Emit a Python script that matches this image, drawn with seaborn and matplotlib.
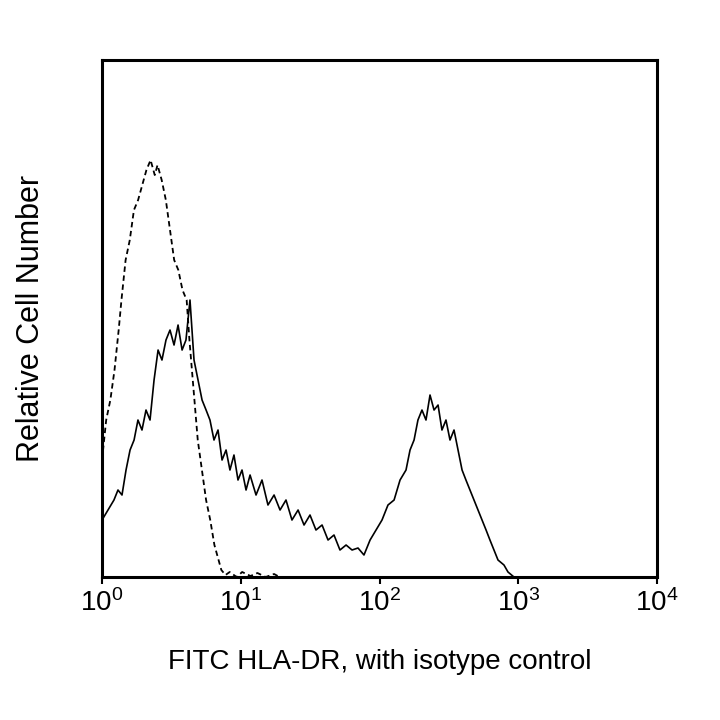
import numpy as np
import pandas as pd
import matplotlib
matplotlib.use("Agg")
import matplotlib.pyplot as plt
import seaborn as sns

# isotype control (dashed): log10 intensity, relative count
iso_log = [0, .03, .06, .09, .12, .14, .17, .2, .23, .26, .29, .32, .35, .38, .4, .43, .46, .49,
           .52, .55, .58, .61, .63, .66, .69, .72, .75, .78, .81, .84, .86, .89, .92, .97, 1.01,
           1.07, 1.12, 1.18, 1.24, 1.28]
iso_cnt = [117, 157, 177, 207, 247, 277, 317, 337, 367, 377, 392, 407, 417, 402, 412, 397, 377, 347,
           317, 307, 287, 277, 237, 187, 137, 107, 77, 57, 32, 17, 7, 2, 5, 0, 5,
           1, 4, 0, 3, 0]

# HLA-DR stained (solid)
hla_log = [0, .043, .086, .115, .144, .173, .202, .231, .259, .288, .317, .346, .375, .404, .432,
           .461, .49, .519, .548, .577, .605, .634, .663, .692, .721, .75, .778, .807, .836, .865,
           .894, .922, .951, .98, 1.009, 1.038, 1.067, 1.11, 1.153, 1.196, 1.24, 1.283, 1.326,
           1.369, 1.413, 1.456, 1.499, 1.542, 1.586, 1.629, 1.672, 1.715, 1.759, 1.802, 1.845,
           1.888, 1.932, 1.975, 2.018, 2.061, 2.105, 2.148, 2.191, 2.22, 2.249, 2.277, 2.306,
           2.335, 2.364, 2.393, 2.422, 2.45, 2.479, 2.508, 2.537, 2.566, 2.595, 2.623, 2.652,
           2.681, 2.71, 2.739, 2.768, 2.796, 2.825, 2.854, 2.897, 2.926, 2.969]
hla_cnt = [57, 67, 77, 87, 82, 107, 127, 137, 157, 147, 167, 157, 197, 227, 217,
           237, 247, 232, 252, 227, 237, 277, 217, 197, 177, 167, 157, 137, 147, 117,
           127, 107, 122, 97, 107, 87, 102, 82, 97, 72, 82, 67, 77,
           57, 67, 52, 62, 47, 52, 37, 42, 27, 32, 27, 29,
           22, 37, 47, 57, 72, 77, 97, 107, 127, 137, 157, 167,
           157, 182, 167, 172, 147, 157, 137, 147, 127, 107, 97, 87,
           77, 67, 57, 47, 37, 27, 17, 12, 5, 0]

tick_vals = [1, 10, 100, 1000, 10000]
tick_labels = ["$10^0$", "$10^1$", "$10^2$", "$10^3$", "$10^4$"]

sns.set_style("white")
plt.rcParams['font.family'] = ['Liberation Sans', 'DejaVu Sans']
plt.rcParams['mathtext.fontset'] = 'custom'
plt.rcParams['mathtext.rm'] = 'Liberation Sans'
plt.rcParams['mathtext.it'] = 'Liberation Sans'
plt.rcParams['text.color'] = 'black'
plt.rcParams['axes.labelcolor'] = 'black'
plt.rcParams['xtick.color'] = 'black'

iso = pd.DataFrame({"x": 10 ** np.array(iso_log), "y": iso_cnt})
hla = pd.DataFrame({"x": 10 ** np.array(hla_log), "y": hla_cnt})

fig = plt.figure(figsize=(7.2, 7.2), dpi=100)
ax = fig.add_axes([0.1417, 0.1986, 0.7708, 0.718])
sns.lineplot(data=iso, x="x", y="y", ax=ax, color="black", lw=1.3, linestyle=(0, (3, 2)))
sns.lineplot(data=hla, x="x", y="y", ax=ax, color="black", lw=1.2)
ax.set_xscale("log")
ax.set_xlim(1, 10000)
ax.set_ylim(0, 517)
ax.set_xticks(tick_vals)
ax.set_xticklabels(tick_labels, fontsize=20)
ax.minorticks_off()
ax.set_yticks([])
ax.tick_params(axis="x", direction="out", length=5, width=1.5, bottom=True, pad=4)
for s in ax.spines.values():
    s.set_linewidth(2.2)
    s.set_color("black")
ax.set_xlabel("FITC HLA-DR, with isotype control", fontsize=20, labelpad=23)
ax.set_ylabel("Relative Cell Number", fontsize=22, labelpad=40)
fig.savefig("out.png", dpi=100)
